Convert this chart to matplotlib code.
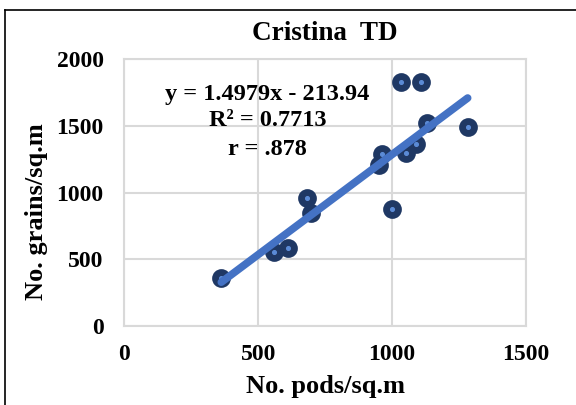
import numpy as np
import matplotlib.pyplot as plt

# values
pods = [362, 558, 611, 683, 698, 953, 963, 1000, 1034, 1053, 1090, 1109, 1131, 1283]
grains = [358, 557, 587, 957, 845, 1207, 1290, 877, 1825, 1295, 1365, 1825, 1520, 1487]
slope, intercept = 1.4979, -213.94
eq_lines = ['y = 1.4979x - 213.94', 'R² = 0.7713', 'r = .878']
eq_y = [1690, 1500, 1280]

plt.rcParams['font.family'] = ['Liberation Serif', 'DejaVu Serif']
plt.rcParams['font.weight'] = 'bold'

fig = plt.figure(figsize=(5.76, 4.05), dpi=100)
ax = fig.add_axes([0.2161, 0.195, 0.6966, 0.6593])

# outer frame (only top and left edges are visible)
fig.add_artist(plt.Line2D([5/576, 1.0], [1-10/405, 1-10/405], color='black', lw=1.2, transform=fig.transFigure))
fig.add_artist(plt.Line2D([5/576, 5/576], [1-10/405, 0], color='black', lw=1.2, transform=fig.transFigure))

ax.scatter(pods, grains, s=110, facecolor='#203864', edgecolor='#1F3864', linewidths=3, zorder=3)
ax.scatter(pods, grains, s=7, color='#5B8BD6', zorder=4)

xf = np.array([min(pods), max(pods)])
ax.plot(xf, slope*xf + intercept, color='#4472C4', lw=5.5, solid_capstyle='round', zorder=5)

for t, yy in zip(eq_lines, eq_y):
    ax.text(535, yy, t, ha='center', va='baseline', fontsize=17.5, fontweight='bold', zorder=6)

ax.set_xlim(0, 1500)
ax.set_ylim(0, 2000)
ax.set_xticks([0, 500, 1000, 1500])
ax.set_yticks([0, 500, 1000, 1500, 2000])
ax.grid(True, color='#D9D9D9', lw=1.5)
ax.set_axisbelow(True)
for s in ax.spines.values():
    s.set_color('#D9D9D9')
    s.set_linewidth(1.5)
ax.tick_params(length=0, labelsize=17)
ax.tick_params(axis='x', pad=13)
ax.tick_params(axis='y', pad=15)
for lab in ax.get_xticklabels() + ax.get_yticklabels():
    lab.set_fontweight('bold')

ax.set_title('Cristina  TD', fontsize=19.5, fontweight='bold', pad=14)
ax.set_xlabel('No. pods/sq.m', fontsize=19, fontweight='bold', labelpad=7)
ax.set_ylabel('No. grains/sq.m', fontsize=19, fontweight='bold')
ax.yaxis.set_label_coords(-0.19, 0.43)

plt.savefig('out.png', dpi=100)
